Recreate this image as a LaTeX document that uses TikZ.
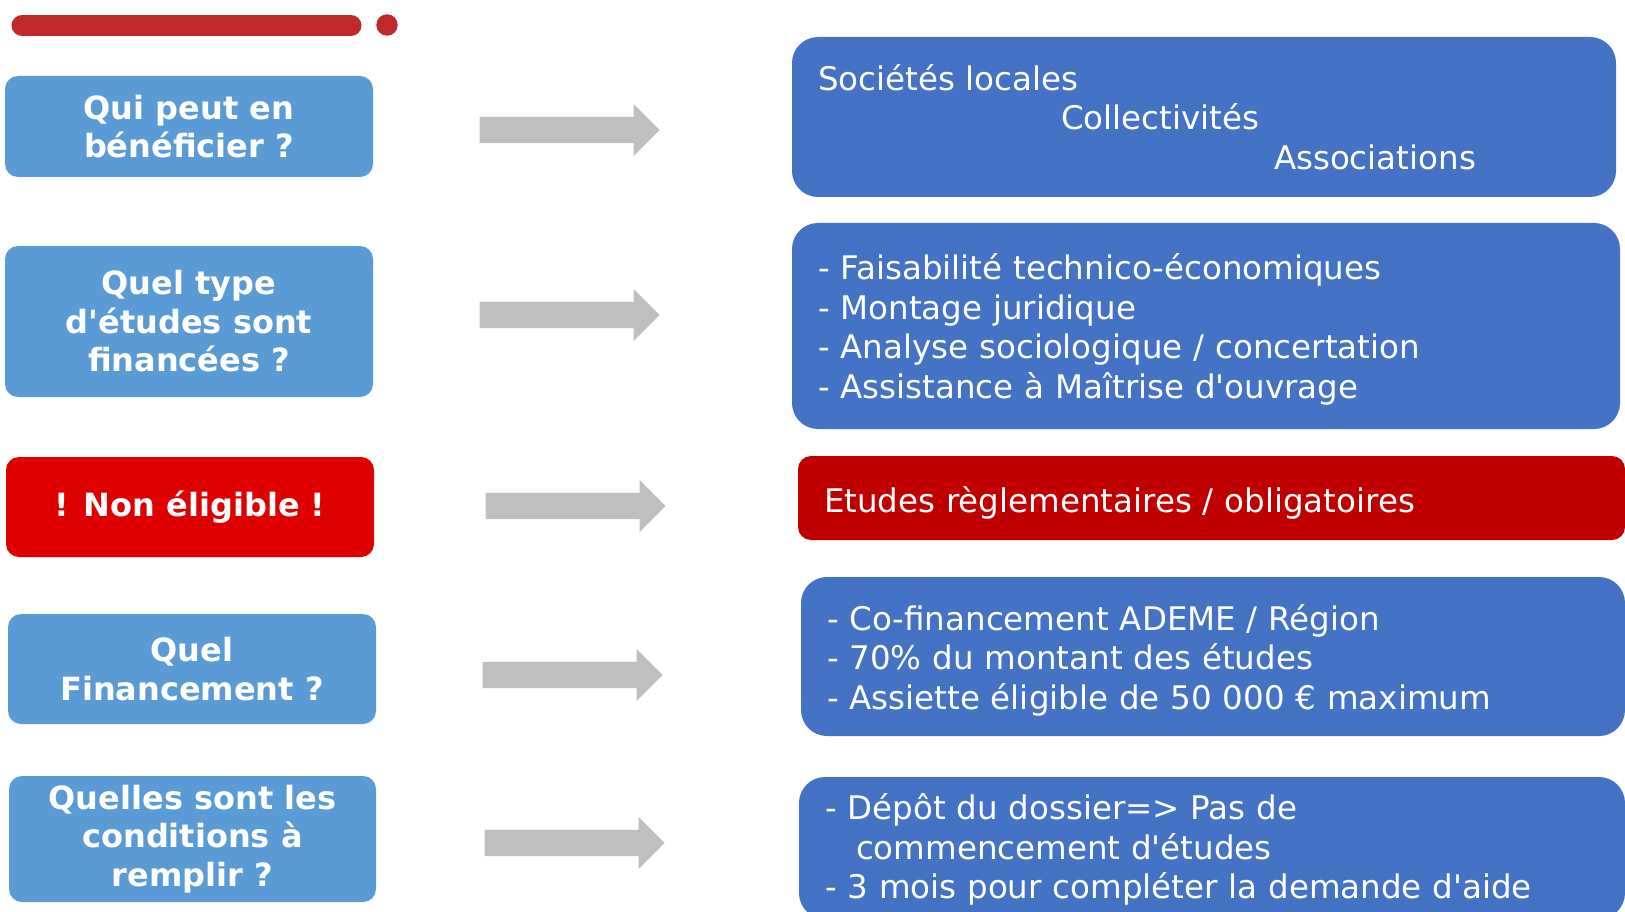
\documentclass[tikz,border=0pt]{standalone}
\usepackage{fontspec}
\setmainfont[Ligatures=TeXOff]{DejaVu Sans}
\newfontfamily\answerfont{DejaVu Sans}
\usepackage{tikz}
\usetikzlibrary{shapes.arrows}
\definecolor{askblue}{HTML}{5B9BD5}
\definecolor{infoblue}{HTML}{4472C4}
\definecolor{warnred}{HTML}{DF0000}
\definecolor{darkred}{HTML}{C00000}
\definecolor{pipegray}{HTML}{BFBFBF}
\definecolor{barred}{HTML}{C0282B}
\tikzstyle{question}=[rounded corners=13pt,fill=askblue,text=white,font=\bfseries\fontsize{32}{38.5}\selectfont,align=center,minimum width=368pt,inner sep=0pt]
\tikzstyle{answer}=[rounded corners=26pt,fill=infoblue,text=white,font=\answerfont\fontsize{32.5}{39.5}\selectfont,align=left,inner xsep=26pt,inner ysep=0pt]
\tikzstyle{pipe}=[single arrow,fill=pipegray,minimum height=180pt,single arrow head extend=13pt,single arrow head indent=0pt,inner xsep=0pt,inner ysep=13pt,anchor=tip]

\begin{document}
\begin{tikzpicture}[x=1pt,y=-1pt]
      \useasboundingbox[fill=white] (0,0) rectangle (1625,912);
      \clip (0,0) rectangle (1625,912);
      % top bar
      \draw[barred,line width=21pt,line cap=round] (22,25.5) -- (351,25.5);
      \fill[barred] (387,25) circle (10.7pt);
      % questions
      \node[question,minimum height=101pt] (q1) at (189,126.5) {Qui peut en\\bénéficier ?};
      \node[question,minimum height=151pt] (q2) at (189,321.5) {Quel type\\d'études sont\\financées ?};
      \node[question,minimum height=100pt,fill=warnred] (q3) at (190,507) {! Non éligible !};
      \node[question,minimum height=110pt] (q4) at (192,669) {Quel\\Financement ?};
      \node[question,minimum height=126pt,minimum width=367pt] (q5) at (192.5,839) {Quelles sont les\\conditions à\\remplir ?};
      % arrows
      \node[pipe] (a1) at (660,130) {};
      \node[pipe] (a2) at (660,315) {};
      \node[pipe] (a3) at (666,506) {};
      \node[pipe] (a4) at (663,675) {};
      \node[pipe] (a5) at (665,843) {};
      % answers
      \node[answer,minimum width=824pt,minimum height=160pt,text width=772pt] (r1) at (1204,117)
        {Sociétés locales\\\hspace*{243pt}Collectivités\\\hspace*{456pt}Associations};
      \node[answer,minimum width=828pt,minimum height=206pt,text width=776pt,text depth=118.5pt] (r2) at (1206,326)
        {- Faisabilité technico-économiques\\- Montage juridique\\- Analyse sociologique / concertation\\- Assistance à Maîtrise d'ouvrage};
      \node[answer,minimum width=827pt,minimum height=84pt,text width=775pt,text height=29pt,text depth=0pt,fill=darkred,rounded corners=13pt] (r3) at (1211.5,498)
        {Etudes règlementaires / obligatoires};
      \node[answer,minimum width=824pt,minimum height=159pt,text width=772pt,text depth=79pt] (r4) at (1213,656.5)
        {- Co-financement ADEME / Région\\- 70\% du montant des études\\- Assiette éligible de 50 000 € maximum};
      \node[answer,minimum width=826pt,minimum height=142pt,text width=774pt,text depth=82.7pt] (r5) at (1212,848)
        {- Dépôt du dossier=> Pas de\\\hspace*{31pt}commencement d'études\\- 3 mois pour compléter la demande d'aide};
    \end{tikzpicture}
\end{document}
